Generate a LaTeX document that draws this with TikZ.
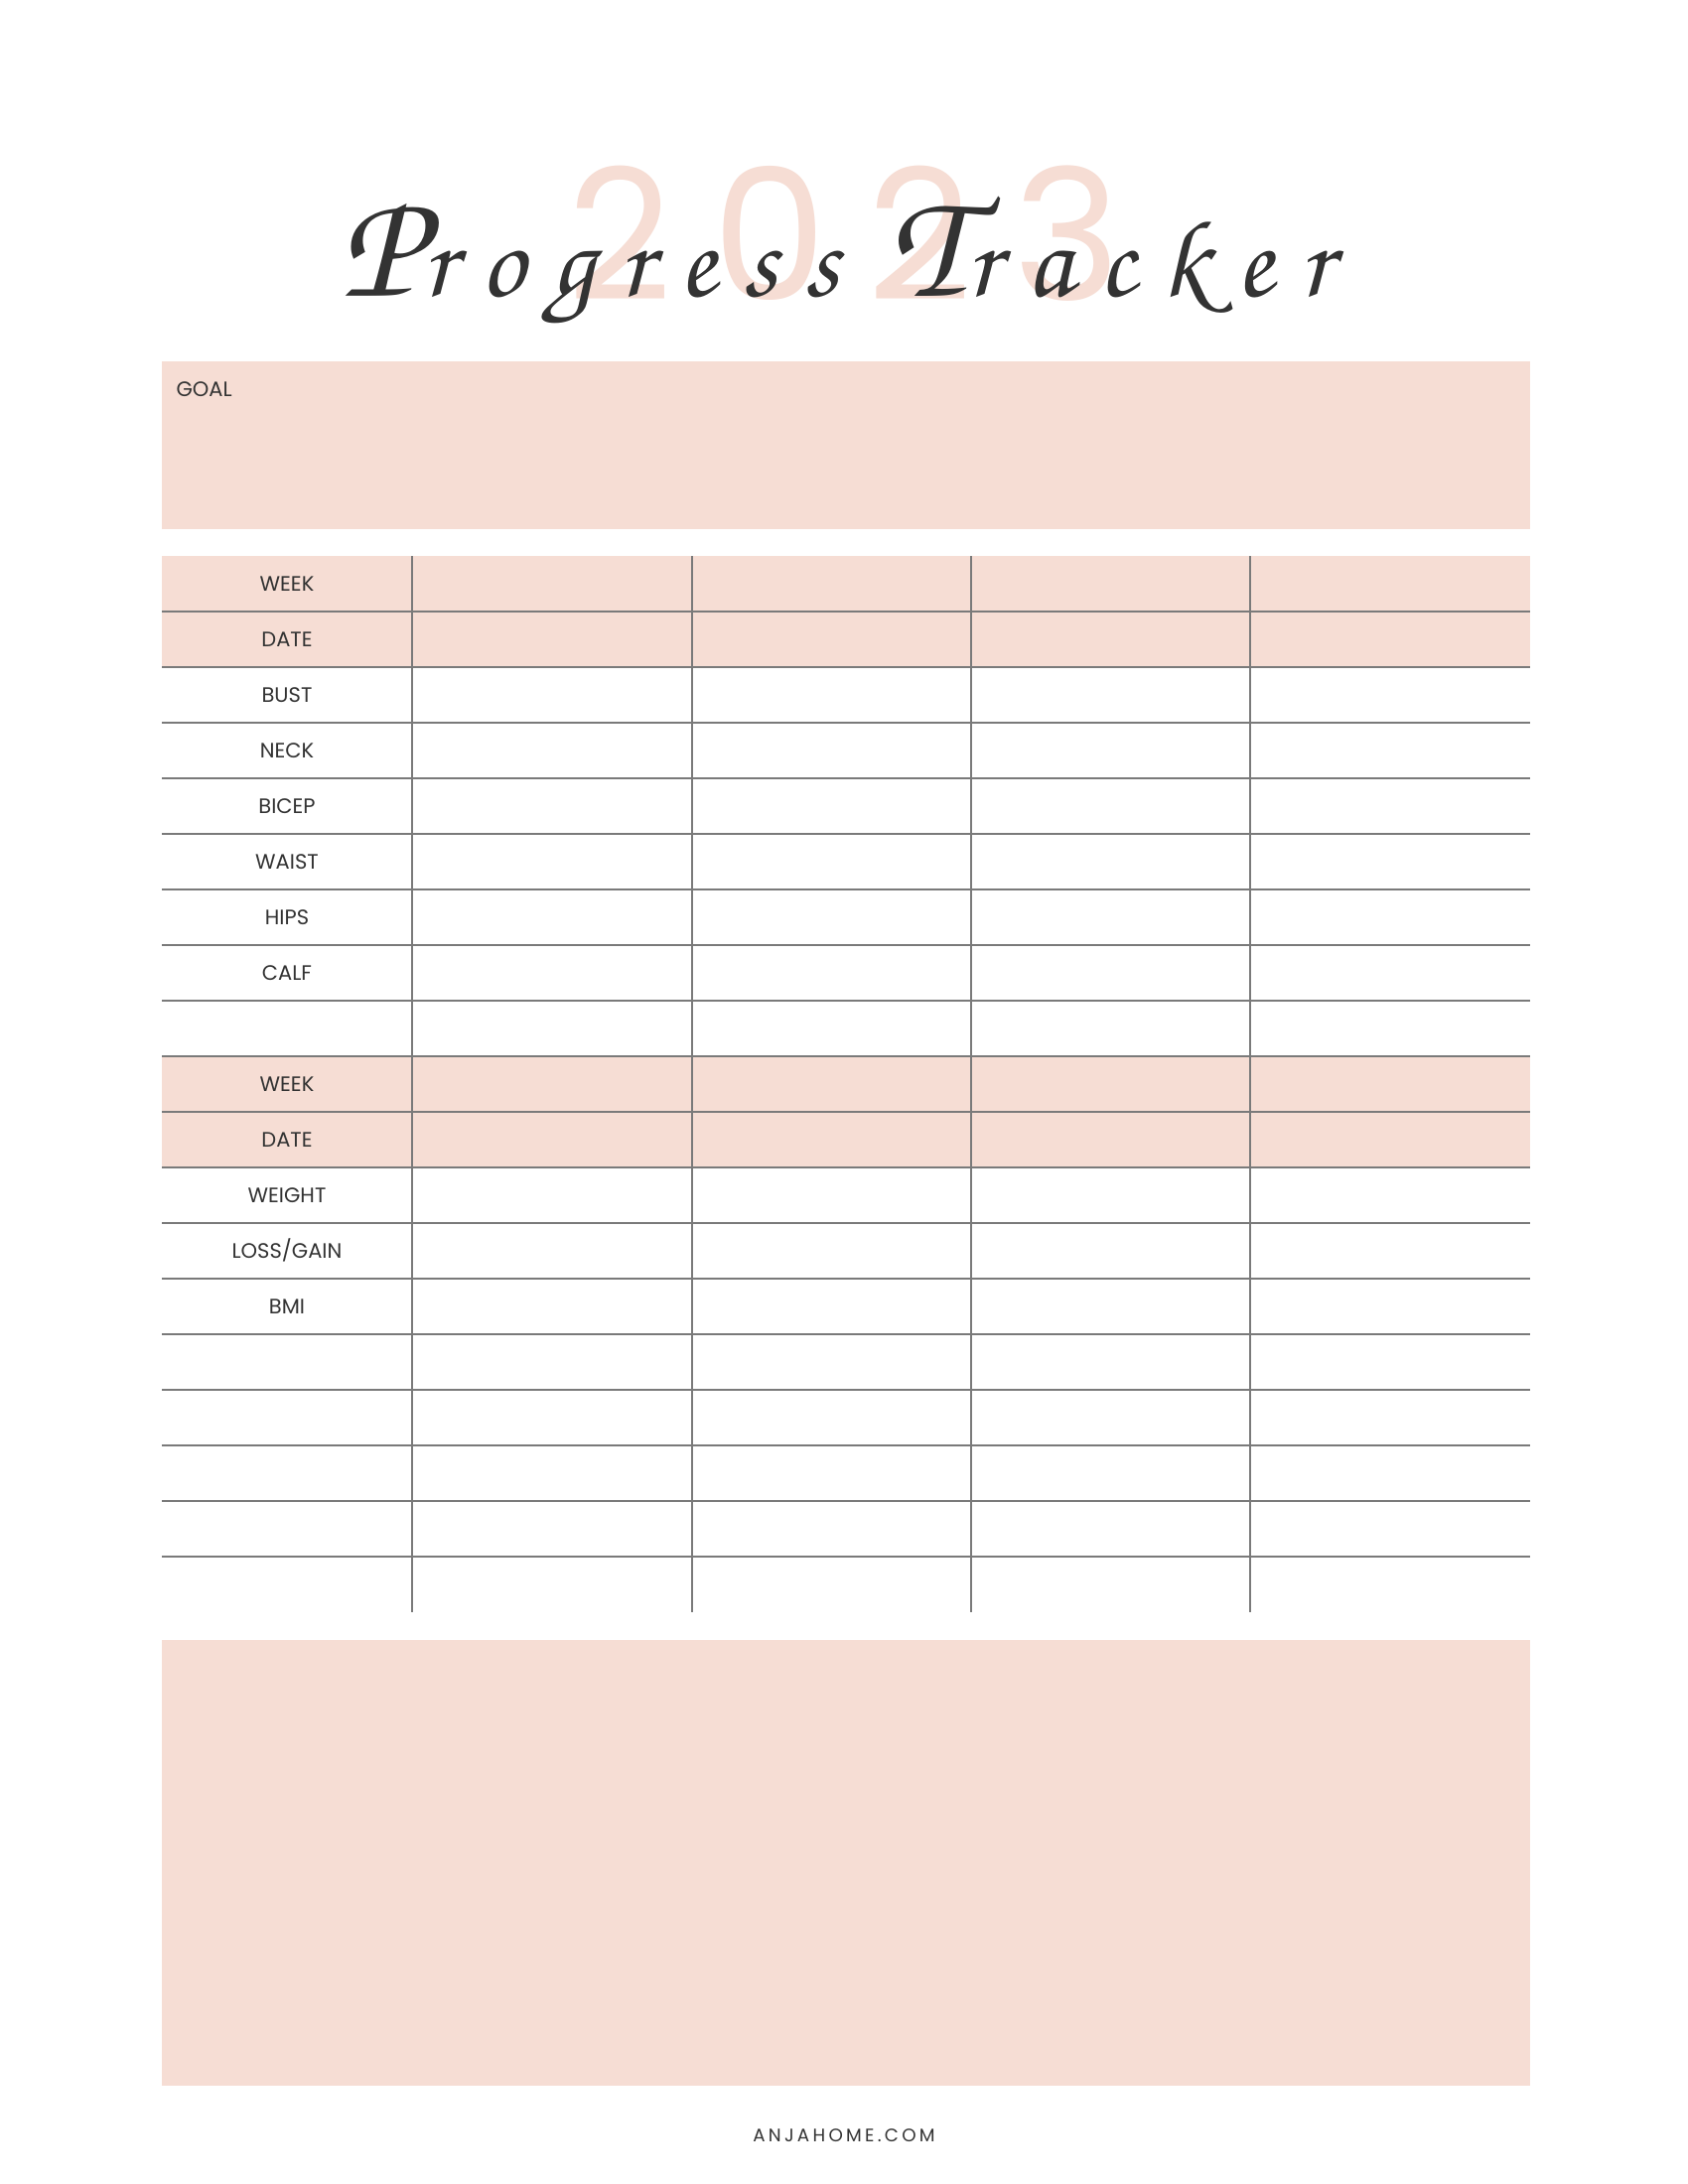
\documentclass[tikz,border=0pt]{standalone}
\usepackage{fontspec}
\setmainfont{Poppins}
\newfontfamily\titlehand{texgyrechorus-mediumitalic.otf}
\definecolor{rose}{HTML}{F6DDD4}
\definecolor{ligne}{HTML}{7A7A7A}
\definecolor{encre}{HTML}{333333}

\begin{document}
\begin{tikzpicture}[x=0.36bp,y=-0.36bp,
  etiquette/.style={font=\fontsize{7.6}{9}\selectfont,text=encre,inner sep=0pt},
  trait/.style={ligne,line width=0.7pt}]

  \useasboundingbox (0,0) rectangle (1700,2200);
  \fill[white] (0,0) rectangle (1700,2200);

% Objectif
\fill[rose] (163,364) rectangle (1541,533);
\node[etiquette,anchor=base west] (goal) at (177,399) {GOAL};

% Titre
\node[text=rose,font=\fontsize{66.5}{66.5}\selectfont\addfontfeature{LetterSpace=22},anchor=base,inner sep=0pt] (annee) at (850,302) {2023};
\node[text=encre,font=\titlehand\fontsize{40}{40}\selectfont\addfontfeature{LetterSpace=24},anchor=base,inner sep=0pt] (titre) at (842,298)
  {{\fontsize{56}{56}\selectfont P}rogress {\fontsize{56}{56}\selectfont T}racker};

% Tableau
\fill[rose] (163,560) rectangle (1541,672);
\fill[rose] (163,1064) rectangle (1541,1176);
\foreach \k in {1,...,18} {
  \draw[trait] (163,560+56*\k) -- (1541,560+56*\k);
}
\foreach \x in {415,697,978,1259} {
  \draw[trait] (\x,560) -- (\x,1624);
}

\foreach \i/\nom in {0/WEEK,1/DATE,2/BUST,3/NECK,4/BICEP,5/WAIST,6/HIPS,7/CALF,
                     9/WEEK,10/DATE,11/WEIGHT,12/{LOSS/GAIN},13/BMI} {
  \node[etiquette,anchor=base] (lab\i) at (289,560+56*\i+35) {\nom};
}

% Notes
\fill[rose] (163,1652) rectangle (1541,2101);

\node[font=\fontsize{6.6}{8}\selectfont\addfontfeature{LetterSpace=18},text=encre,anchor=base,inner sep=0pt] (site) at (850,2157) {ANJAHOME.COM};

\end{tikzpicture}
\end{document}
